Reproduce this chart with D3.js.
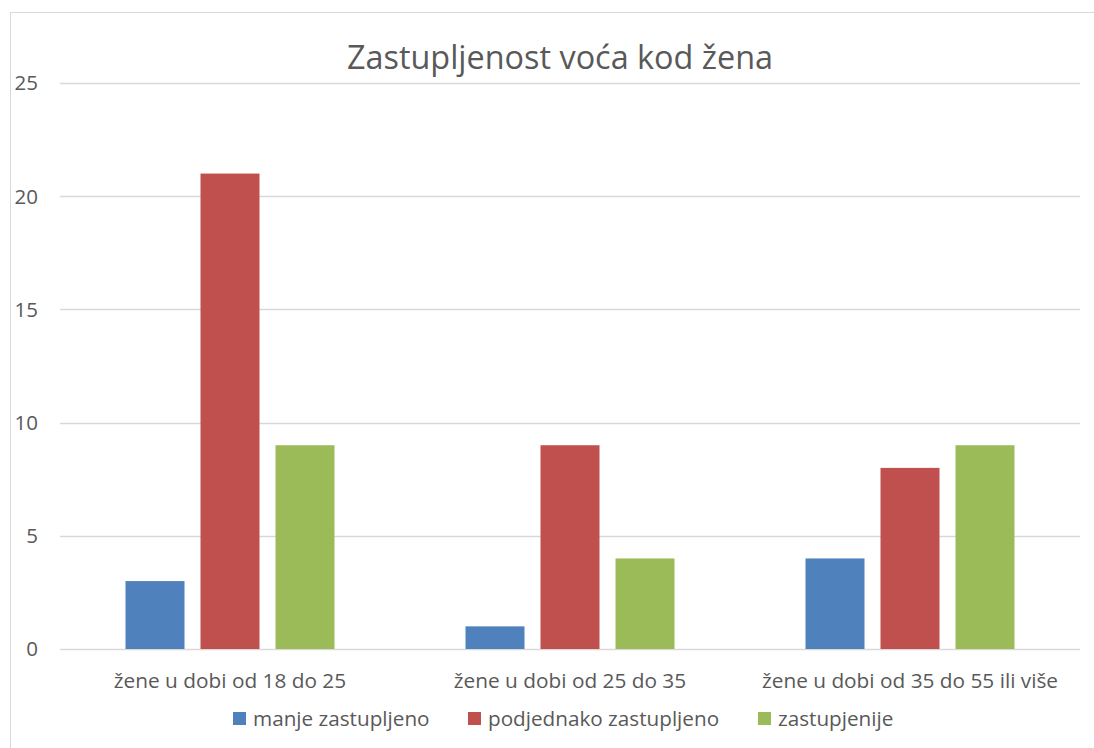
<!DOCTYPE html>
<html>
<head>
<meta charset="utf-8">
<script src="https://cdn.jsdelivr.net/npm/d3@7"></script>
<style>
  body { margin: 0; background: #fff; }
  text { font-family: "Open Sans", Lato, sans-serif; fill: #595959; }
</style>
</head>
<body>
<div id="chart"></div>
<script>
// chart data
const categories = ["žene u dobi od 18 do 25", "žene u dobi od 25 do 35", "žene u dobi od 35 do 55 ili više"];
const series = ["manje zastupljeno", "podjednako zastupljeno", "zastupjenije"];
const manje = [3, 1, 4];
const podjednako = [21, 9, 8];
const zastupjenije = [9, 4, 9];
const yTicks = [0, 5, 10, 15, 20, 25];
const colors = ["#4F81BD", "#C0504D", "#9BBB59"];
const title = "Zastupljenost voća kod žena";

const values = [manje, podjednako, zastupjenije];

const W = 1094, H = 748;
const margin = { top: 83, right: 14, bottom: 99, left: 60 };

const svg = d3.select("#chart").append("svg")
  .attr("width", W)
  .attr("height", H);

// chart border
svg.append("rect")
  .attr("x", 10.5).attr("y", 12.5)
  .attr("width", W).attr("height", H)
  .attr("fill", "none")
  .attr("stroke", "#D9D9D9")
  .attr("stroke-width", 1);

// scales
const x0 = d3.scaleBand().domain(categories).range([margin.left, W - margin.right]).padding(0);
const groupW = 209;
const x1 = d3.scaleBand().domain(series).range([0, groupW]).paddingInner(0.2133);
const y = d3.scaleLinear().domain([0, 25]).range([H - margin.bottom, margin.top]);

// gridlines
svg.append("g")
  .selectAll("line")
  .data(yTicks)
  .join("line")
  .attr("x1", margin.left).attr("x2", W - margin.right)
  .attr("y1", (d) => Math.round(y(d)) + 0.5)
  .attr("y2", (d) => Math.round(y(d)) + 0.5)
  .attr("stroke", "#D9D9D9")
  .attr("stroke-width", 1.5);

// y axis labels
svg.append("g")
  .selectAll("text")
  .data(yTicks)
  .join("text")
  .attr("x", 38)
  .attr("y", (d) => y(d))
  .attr("dy", "0.36em")
  .attr("text-anchor", "end")
  .style("font-size", "20.5px")
  .text((d) => d);

// bars
const groups = svg.append("g")
  .selectAll("g")
  .data(categories)
  .join("g")
  .attr("transform", (d) => `translate(${x0(d) + (x0.bandwidth() - groupW) / 2},0)`);

groups.selectAll("rect")
  .data((d, i) => series.map((s, j) => ({ key: s, value: values[j][i], color: colors[j] })))
  .join("rect")
  .attr("x", (d) => x1(d.key))
  .attr("y", (d) => y(d.value))
  .attr("width", x1.bandwidth())
  .attr("height", (d) => y(0) - y(d.value))
  .attr("fill", (d) => d.color);

// category labels
svg.append("g")
  .selectAll("text")
  .data(categories)
  .join("text")
  .attr("x", (d) => x0(d) + x0.bandwidth() / 2)
  .attr("y", 688)
  .attr("text-anchor", "middle")
  .style("font-size", "20.8px")
  .text((d) => d);

// title
svg.append("text")
  .attr("x", 560)
  .attr("y", 69)
  .attr("text-anchor", "middle")
  .style("font-size", "32.4px")
  .text(title);

// legend
const legendX = [233, 468, 758];
const legend = svg.append("g")
  .selectAll("g")
  .data(series)
  .join("g")
  .attr("transform", (d, i) => `translate(${legendX[i]},712)`);

legend.append("rect")
  .attr("width", 13).attr("height", 13)
  .attr("fill", (d, i) => colors[i]);

legend.append("text")
  .attr("x", 20)
  .attr("y", 14)
  .style("font-size", "20.7px")
  .text((d) => d);
</script>
</body>
</html>
